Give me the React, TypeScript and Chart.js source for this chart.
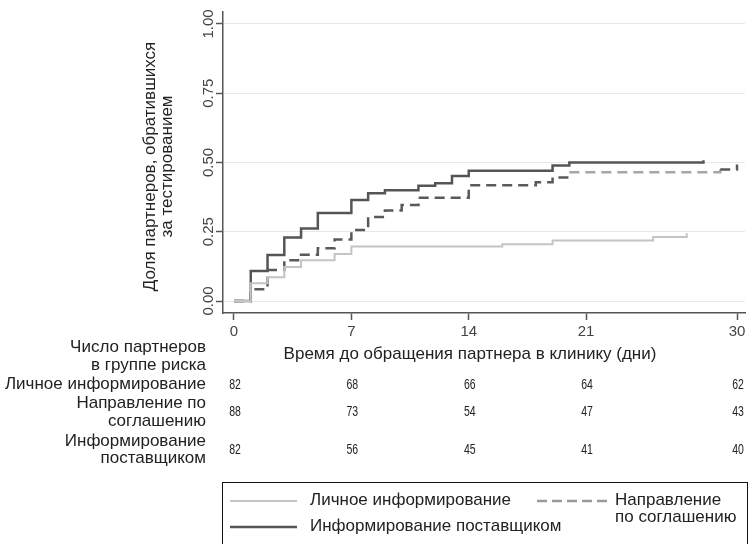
import React, { useEffect, useRef } from 'react';
import { Chart, registerables } from 'chart.js';

Chart.register(...registerables);

// Kaplan–Meier style cumulative proportions (day, proportion)
const personalDays = [0, 1, 2, 3, 4, 6, 7, 16, 19, 25, 27];
const personalVals = [0, 0.064, 0.086, 0.123, 0.147, 0.17, 0.197, 0.205, 0.218, 0.231, 0.245];

const agreementDays = [0, 1, 2, 3, 4, 5, 6, 7, 8, 9, 10, 11, 14, 18, 19, 20, 29, 30];
const agreementVals = [0, 0.042, 0.112, 0.147, 0.167, 0.19, 0.222, 0.256, 0.303, 0.327, 0.347, 0.373, 0.418, 0.429, 0.446, 0.465, 0.475, 0.493];

const providerDays = [0, 1, 2, 3, 4, 5, 7, 8, 9, 11, 12, 13, 14, 19, 20, 28];
const providerVals = [0, 0.108, 0.166, 0.229, 0.262, 0.318, 0.365, 0.389, 0.4, 0.416, 0.425, 0.451, 0.47, 0.489, 0.5, 0.508];

const xTickValues = [0, 7, 14, 21, 30];
const yTickValues = [0, 0.25, 0.5, 0.75, 1];

const riskTimes = [0, 7, 14, 21, 30];
const riskPersonal = [82, 68, 66, 64, 62];
const riskAgreement = [88, 73, 54, 47, 43];
const riskProvider = [82, 56, 45, 41, 40];

const yTitleLines = ['Доля партнеров, обратившихся', 'за тестированием'];
const xTitle = 'Время до обращения партнера в клинику (дни)';
const riskHeader = ['Число партнеров', 'в группе риска'];
const riskRowLabels = [['Личное информирование'], ['Направление по', 'соглашению'], ['Информирование', 'поставщиком']];
const legendPersonal = 'Личное информирование';
const legendAgreement = ['Направление', 'по соглашению'];
const legendProvider = 'Информирование поставщиком';

const SANS = '"Liberation Sans", Arial, Helvetica, sans-serif';

const COL_LIGHT = '#c4c4c4';
const COL_DARK = '#555555';
const COL_DASH = '#595959';
const COL_DASH_LATE = '#a6a6a6';

const toPoints = (d: number[], v: number[]) => d.map((x, i) => ({ x, y: v[i] }));

const overlay = {
  id: 'overlay',
  afterDraw(chart: any) {
    const ctx: CanvasRenderingContext2D = chart.ctx;
    const xs = chart.scales.x;
    const ys = chart.scales.y;
    ctx.save();

    // y tick labels (vertical)
    ctx.fillStyle = '#444';
    ctx.font = `15px ${SANS}`;
    ctx.textAlign = 'center';
    ctx.textBaseline = 'middle';
    ys.ticks.forEach((t: any) => {
      const py = ys.getPixelForValue(t.value);
      ctx.save();
      ctx.translate(209, py);
      ctx.rotate(-Math.PI / 2);
      ctx.fillText(Number(t.value).toFixed(2), 0, 0);
      ctx.restore();
    });

    // y title
    ctx.fillStyle = '#222';
    ctx.font = `17px ${SANS}`;
    const cy = (ys.top + ys.bottom) / 2 + 4;
    yTitleLines.forEach((line, i) => {
      ctx.save();
      ctx.translate(150 + i * 17, cy);
      ctx.rotate(-Math.PI / 2);
      ctx.fillText(line, 0, 0);
      ctx.restore();
    });

    // x title
    ctx.fillText(xTitle, 470, 354);

    // risk table labels
    ctx.textAlign = 'right';
    ctx.fillText(riskHeader[0], 206, 347.5);
    ctx.fillText(riskHeader[1], 206, 365);
    const rowLabelY = [[384.5], [403.5, 421], [441, 458.5]];
    riskRowLabels.forEach((lines, r) => {
      lines.forEach((l, k) => ctx.fillText(l, 206, rowLabelY[r][k]));
    });

    // risk numbers (condensed)
    ctx.textAlign = 'center';
    ctx.font = `15px ${SANS}`;
    const rows = [riskPersonal, riskAgreement, riskProvider];
    const rowY = [385, 411.5, 450];
    rows.forEach((vals, r) => {
      vals.forEach((v, i) => {
        ctx.save();
        ctx.translate(xs.getPixelForValue(riskTimes[i]) + 1, rowY[r]);
        ctx.scale(0.7, 1);
        ctx.fillText(String(v), 0, 0);
        ctx.restore();
      });
    });

    // legend
    ctx.strokeStyle = '#111';
    ctx.lineWidth = 1;
    ctx.setLineDash([]);
    ctx.strokeRect(222.5, 482.5, 525, 100);

    const seg = (x1: number, x2: number, y: number, color: string, w: number, dash: number[]) => {
      ctx.beginPath();
      ctx.strokeStyle = color;
      ctx.lineWidth = w;
      ctx.setLineDash(dash);
      ctx.moveTo(x1, y);
      ctx.lineTo(x2, y);
      ctx.stroke();
      ctx.setLineDash([]);
    };
    seg(230, 297, 501, COL_LIGHT, 2, []);
    seg(230, 297, 527, COL_DARK, 2.5, []);
    seg(537, 608, 501, '#9a9a9a', 2.5, [10, 5]);

    ctx.fillStyle = '#222';
    ctx.font = `17px ${SANS}`;
    ctx.textAlign = 'left';
    ctx.fillText(legendPersonal, 310, 500.5);
    ctx.fillText(legendProvider, 310, 526.5);
    ctx.fillText(legendAgreement[0], 615, 500.5);
    ctx.fillText(legendAgreement[1], 615, 517.5);

    ctx.restore();
  },
};

export default function App() {
  const ref = useRef<HTMLCanvasElement | null>(null);

  useEffect(() => {
    document.body.style.margin = '0';
    const canvas = ref.current;
    if (!canvas) return;
    const chart = new Chart(canvas, {
      type: 'line',
      data: {
        datasets: [
          {
            label: 'Личное информирование',
            data: toPoints(personalDays, personalVals),
            borderColor: COL_LIGHT,
            borderWidth: 2,
            stepped: true,
            pointRadius: 0,
            fill: false,
          },
          {
            label: 'Направление по соглашению',
            data: toPoints(agreementDays, agreementVals),
            borderColor: COL_DASH,
            borderWidth: 2.5,
            borderDash: [10, 6],
            stepped: true,
            pointRadius: 0,
            fill: false,
            segment: {
              borderColor: (c: any) =>
                c.p0.parsed.x >= 20 && c.p0.parsed.x < 29 ? COL_DASH_LATE : COL_DASH,
            },
          },
          {
            label: 'Информирование поставщиком',
            data: toPoints(providerDays, providerVals),
            borderColor: COL_DARK,
            borderWidth: 2.5,
            stepped: true,
            pointRadius: 0,
            fill: false,
          },
        ],
      },
      options: {
        animation: false,
        responsive: false,
        maintainAspectRatio: false,
        layout: { padding: { top: 12, right: 5, left: 0, bottom: 0 } },
        plugins: {
          legend: { display: false },
          tooltip: { enabled: false },
        },
        scales: {
          x: {
            type: 'linear',
            min: -0.656,
            max: 30.477,
            afterBuildTicks: (s: any) => {
              s.ticks = xTickValues.map((v) => ({ value: v }));
            },
            afterFit: (s: any) => {
              s.height = 231;
            },
            ticks: {
              color: '#444',
              font: { family: SANS, size: 15 },
              padding: 3,
              maxRotation: 0,
              autoSkip: false,
              callback: (v: any) => String(v),
            },
            grid: {
              drawOnChartArea: false,
              drawTicks: true,
              tickLength: 7,
              tickColor: '#555',
              tickWidth: 1.5,
            },
            border: { color: '#555', width: 1.5 },
          },
          y: {
            type: 'linear',
            min: -0.0433,
            max: 1.0433,
            afterBuildTicks: (s: any) => {
              s.ticks = yTickValues.map((v) => ({ value: v }));
            },
            afterFit: (s: any) => {
              s.width = 223;
            },
            ticks: { display: false },
            grid: {
              color: '#e4eaea',
              lineWidth: 1,
              drawTicks: true,
              tickLength: 7,
              tickColor: '#555',
              tickWidth: 1.5,
            },
            border: { color: '#555', width: 1.5 },
          },
        },
      },
      plugins: [overlay],
    });
    return () => chart.destroy();
  }, []);

  return (
    <div style={{ width: 750, height: 544, background: '#fff' }}>
      <canvas ref={ref} width={750} height={544} style={{ display: 'block' }} />
    </div>
  );
}
